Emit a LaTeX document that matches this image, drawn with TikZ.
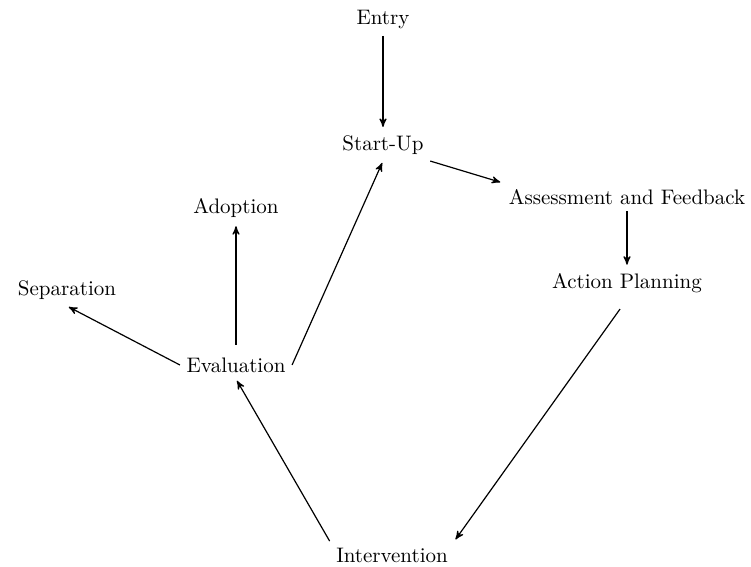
\documentclass[tikz,border=0pt]{standalone}
\usepackage{tikz}
\usetikzlibrary{arrows,positioning}

\begin{document}
\begin{tikzpicture}[->,>=stealth',shorten >=1pt,auto,on grid,semithick,
stage/.style={font=\fontsize{10.5}{12.6}\selectfont,inner sep=3pt}]
\useasboundingbox (0pt,0pt) rectangle (375.5pt,-283.5pt);
\node[stage] (E) at (191.5pt,-10pt) {Entry};
\node[stage] (S) [below=62.5pt of E] {Start-Up};
\node[stage] (A) [below right=26pt and 122pt of S] {Assessment and Feedback};
\node[stage] (P) [below=43pt of A] {Action Planning};
\node[stage] (I) [below left=136pt and 117.5pt of P] {Intervention};
\node[stage] (V) [above left=95pt and 78pt of I] {Evaluation};
\node[stage] (D) [above=78.5pt of V] {Adoption};
\node[stage] (X) [above left=37.5pt and 84.5pt of V] {Separation};
\draw (E) -- (S);
\draw (S.south east) -- (A.north west);
\draw (A) -- (P);
\draw[shorten <=6pt] (P.south) -- (I.north east);
\draw (I.north west) -- (V.south);
\draw (V.east) -- (S.south);
\draw[shorten <=3pt] (V) -- (D);
\draw (V.west) -- (X.south);
\end{tikzpicture}
\end{document}
